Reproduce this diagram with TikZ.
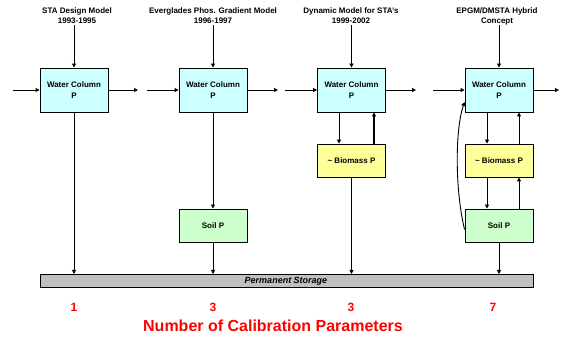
\documentclass[tikz,border=0pt]{standalone}
\usepackage{fontspec}
\setmainfont{Liberation Sans}
\usetikzlibrary{arrows.meta}
\definecolor{wc}{HTML}{CCFFFF}
\definecolor{bio}{HTML}{FFFF99}
\definecolor{soil}{HTML}{CCFFCC}
\definecolor{stor}{HTML}{C0C0C0}
\definecolor{nred}{HTML}{FF0000}
\begin{document}
\begin{tikzpicture}[x=1pt,y=-1pt,
  box/.style={draw=black,line width=0.9pt,minimum width=68pt,inner sep=0pt,align=center,font=\bfseries\fontsize{8}{9.5}\selectfont},
  wcbox/.style={box,fill=wc,minimum height=44pt},
  biobox/.style={box,fill=bio,minimum height=33pt},
  soilbox/.style={box,fill=soil,minimum height=33pt},
  ttl/.style={align=center,font=\bfseries\fontsize{8}{10}\selectfont,inner sep=0pt},
  num/.style={text=nred,font=\bfseries\fontsize{12}{13}\selectfont,inner sep=0pt},
  arr/.style={-{Triangle[length=4pt,width=4pt]},line width=0.9pt},
]
\useasboundingbox (0,0) rectangle (563,339);
% Water column boxes
\node[wcbox] (w1) at (74,90) {Water Column\\[1pt]P};
\node[wcbox] (w2) at (213,90) {Water Column\\[1pt]P};
\node[wcbox] (w3) at (351.5,90) {Water Column\\[1pt]P};
\node[wcbox] (w4) at (499,90) {Water Column\\[1pt]P};
% biomass
\node[biobox] (b3) at (351.5,160.5) {\textasciitilde\ Biomass P};
\node[biobox] (b4) at (499,160.5) {\textasciitilde\ Biomass P};
% soil
\node[soilbox] (s2) at (213,225.5) {Soil P};
\node[soilbox] (s4) at (499,225.5) {Soil P};
% storage
\node[draw=black,line width=0.9pt,fill=stor,minimum width=493pt,minimum height=13pt,inner sep=0pt,anchor=north west] (st) at (40,274) {};
\node[font=\bfseries\itshape\fontsize{9}{10}\selectfont,inner sep=0pt] (stl) at (286,281) {Permanent Storage};
% titles
\node[ttl] (t1) at (77,16) {STA Design Model\\1993-1995};
\node[ttl] (t2) at (213,16) {Everglades Phos. Gradient Model\\1996-1997};
\node[ttl] (t3) at (351,16) {Dynamic Model for STA's\\1999-2002};
\node[ttl] (t4) at (497,16) {EPGM/DMSTA Hybrid\\Concept};
% numbers
\node[num] (n1) at (74,307) {1};
\node[num] (n2) at (213,307) {3};
\node[num] (n3) at (351,307) {3};
\node[num] (n4) at (493,307) {7};
\node[text=nred,font=\bfseries\fontsize{16}{18}\selectfont,inner sep=0pt] (cap) at (273,326) {Number of Calibration Parameters};
% coordinates for free ends
\coordinate (i1) at (13,90); \coordinate (o1) at (138,90);
\coordinate (i2) at (147,90); \coordinate (o2) at (278,90);
\coordinate (i3) at (285,90); \coordinate (o3) at (416,90);
\coordinate (i4) at (433,90); \coordinate (o4) at (559,90);
\draw[arr] (i1) -- (w1.west); \draw[arr] (w1.east) -- (o1);
\draw[arr] (i2) -- (w2.west); \draw[arr] (w2.east) -- (o2);
\draw[arr] (i3) -- (w3.west); \draw[arr] (w3.east) -- (o3);
\draw[arr] (i4) -- (w4.west); \draw[arr] (w4.east) -- (o4);
% title arrows
\draw[arr] (74,25) -- (w1.north);
\draw[arr] (213,25) -- (w2.north);
\draw[arr] (351.5,25) -- (w3.north);
\draw[arr] (499,25) -- (w4.north);
% model 1
\draw[arr] (w1.south) -- (w1.south |- st.north);
% model 2
\draw[arr] (w2.south) -- (s2.north);
\draw[arr] (s2.south) -- (s2.south |- st.north);
% model 3
\draw[arr] ([xshift=-12.5pt]w3.south) -- ([xshift=-12.5pt]b3.north);
\draw[arr,line width=1.4pt] ([xshift=22.5pt]b3.north) -- ([xshift=22.5pt]w3.south);
\draw[arr] (b3.south) -- (b3.south |- st.north);
% model 4
\draw[arr] ([xshift=-12pt]w4.south) -- ([xshift=-12pt]b4.north);
\draw[arr] ([xshift=20pt]b4.north) -- ([xshift=20pt]w4.south);
\draw[arr] ([xshift=-12pt]b4.south) -- ([xshift=-12pt]s4.north);
\draw[arr] ([xshift=20pt]s4.north) -- ([xshift=20pt]b4.south);
\draw[arr] (s4.south) -- (s4.south |- st.north);
\draw[arr] ([yshift=-4pt]s4.west) .. controls (455,190) and (455,130) .. ([yshift=-12pt]w4.west);
\end{tikzpicture}
\end{document}
